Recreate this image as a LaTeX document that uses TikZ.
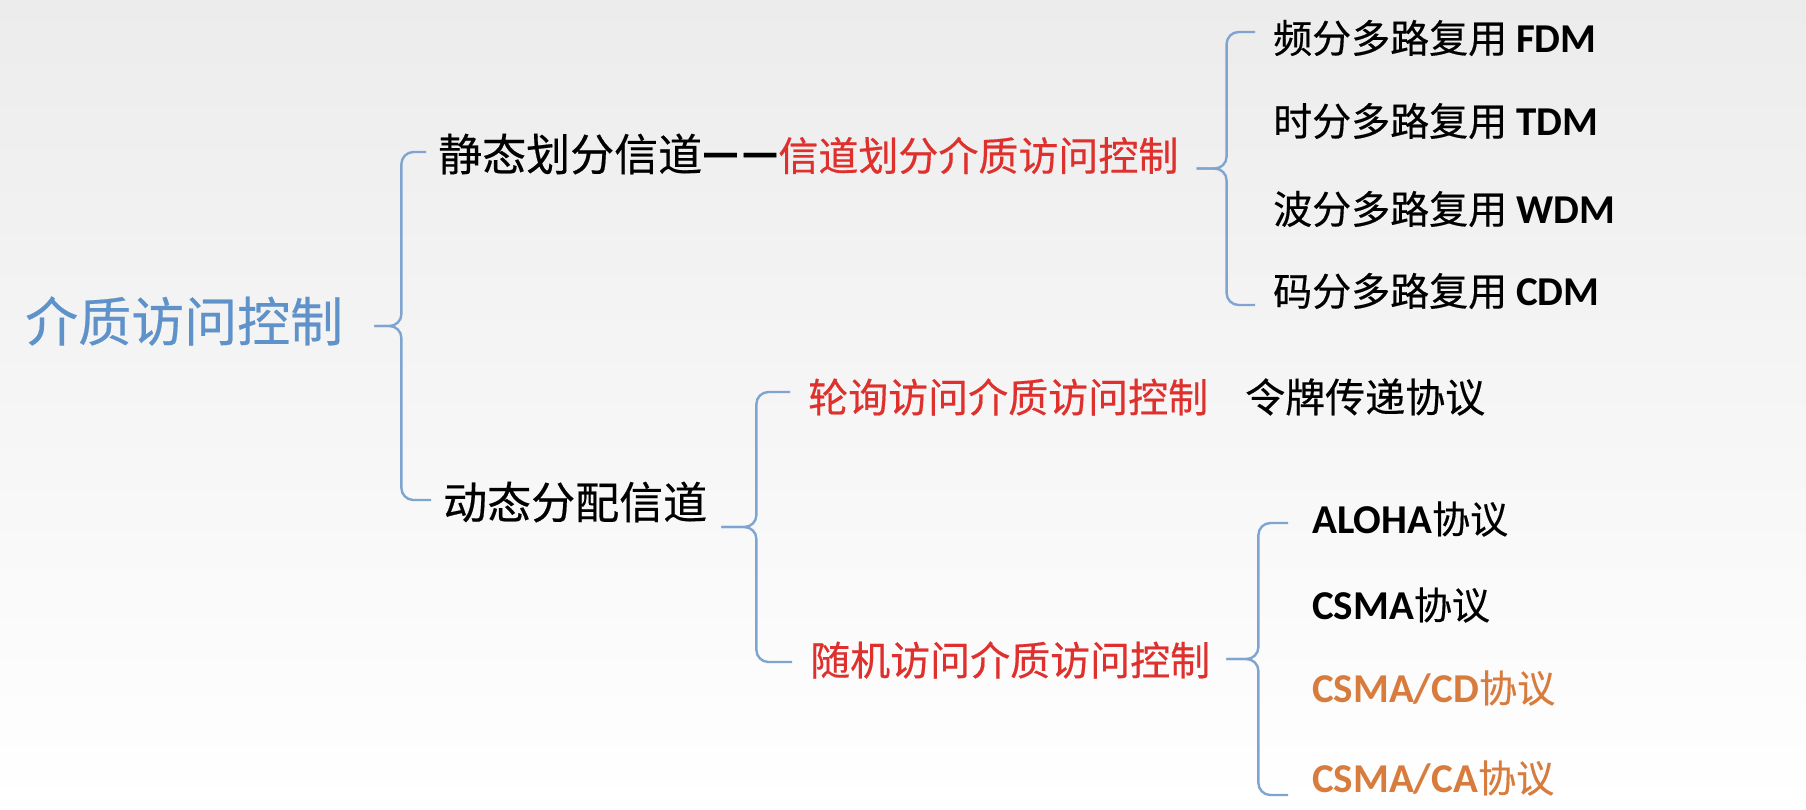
\documentclass[tikz,border=0pt]{standalone}
\usepackage{fontspec}
\setmainfont{Carlito}
\newfontfamily\cjk{Noto Sans CJK SC}[FakeBold=0.4]
\usetikzlibrary{calc}

\definecolor{bgtop}{RGB}{236,236,236}
\definecolor{rootblue}{RGB}{96,146,202}
\definecolor{bracecol}{RGB}{128,164,208}
\definecolor{keyred}{RGB}{222,48,44}
\definecolor{keyorange}{RGB}{216,124,62}

\tikzset{
  txt/.style={anchor=west, inner sep=0pt},
  rootlbl/.style={txt, text=rootblue, font=\cjk\fontsize{53}{60}\selectfont},
  lvlone/.style={txt, font=\cjk\fontsize{44}{52}\selectfont},
  method/.style={txt, text=keyred, font=\cjk\fontsize{40}{48}\selectfont},
  plain/.style={txt, font=\cjk\fontsize{40}{48}\selectfont},
  mux/.style={txt, font=\fontsize{39}{47}\selectfont},
  proto/.style={txt, font=\fontsize{38}{46}\selectfont},
  brace/.style={draw=bracecol, line width=2.4pt, rounded corners=12pt},
}

% a curly bracket from a parent node to the first and last of its children
% #1 parent, #2 first child, #3 its arm shift, #4 last child, #5 its arm shift,
% #6 gap parent->tip, #7 tip->spine, #8 arm end gap before the child
\newcommand\fork[8]{%
  \coordinate (#1-a) at ([yshift=#3]#2.west);
  \coordinate (#1-b) at ([yshift=#5]#4.west);
  \coordinate (#1-m) at ($(#1-a)!0.5!(#1-b)$);
  \coordinate (#1-tx) at ([xshift=#6]#1.east);
  \coordinate (#1-t) at (#1-tx |- #1-m);
  \coordinate (#1-s) at ([xshift=#7]#1-t);
  \draw[brace] ([xshift=-#8]#1-a) -- (#1-s |- #1-a) -- (#1-s) -- (#1-t);
  \draw[brace] ([xshift=-#8]#1-b) -- (#1-s |- #1-b) -- (#1-s) -- (#1-t);
}

\newcommand\mixed[2]{{\cjk #1} \textbf{\fontsize{41}{48}\selectfont #2}}
\newcommand\protoline[1]{\textbf{\fontsize{41}{48}\selectfont #1}{\cjk 协议}}
% the two em dashes between the two names of the static scheme
\newcommand\dashpair{\raisebox{4pt}{\bfseries\fontsize{40}{48}\selectfont —\kern3pt—}}

\begin{document}
\begin{tikzpicture}[x=1pt, y=-1pt]
  \useasboundingbox (0,0) rectangle (1806,809);
  \shade[top color=bgtop, bottom color=white] (0,0) rectangle (1806,809);

  % root
  \node[rootlbl] (root) at (25,321) {介质访问控制};

  % first level
  \node[lvlone] (static) at (438,154)
    {静态划分信道\dashpair{\color{keyred}\fontsize{40}{48}\selectfont 信道划分介质访问控制}};
  \node[lvlone] (dynamic) at (443,502) {动态分配信道};

  % channel partitioning
  \node[mux] (fdm) at (1273,38)  {\mixed{频分多路复用}{FDM}};
  \node[mux] (tdm) at (1273,121) {\mixed{时分多路复用}{TDM}};
  \node[mux] (wdm) at (1273,209) {\mixed{波分多路复用}{WDM}};
  \node[mux] (cdm) at (1273,291) {\mixed{码分多路复用}{CDM}};

  % dynamic allocation
  \node[method] (poll) at (808,397) {轮询访问介质访问控制};
  \node[plain] (token) at (1245,397) {令牌传递协议};
  \node[method] (random) at (810,660) {随机访问介质访问控制};

  % random access protocols
  \node[proto] (aloha) at (1312,519) {\protoline{ALOHA}};
  \node[proto] (csma) at (1312,605) {\protoline{CSMA}};
  \node[proto, text=keyorange] (csmacd) at (1312,688) {\protoline{CSMA/CD}};
  \node[proto, text=keyorange] (csmaca) at (1312,778) {\protoline{CSMA/CA}};

  % brackets
  \fork{root}{static}{2pt}{dynamic}{2pt}{31pt}{27pt}{12pt}
  \fork{static}{fdm}{6pt}{cdm}{-14pt}{18pt}{30pt}{18pt}
  \fork{dynamic}{poll}{5pt}{random}{-2pt}{14pt}{35pt}{18pt}
  \fork{random}{aloha}{-4pt}{csmaca}{-17pt}{16pt}{32pt}{24pt}
\end{tikzpicture}
\end{document}
